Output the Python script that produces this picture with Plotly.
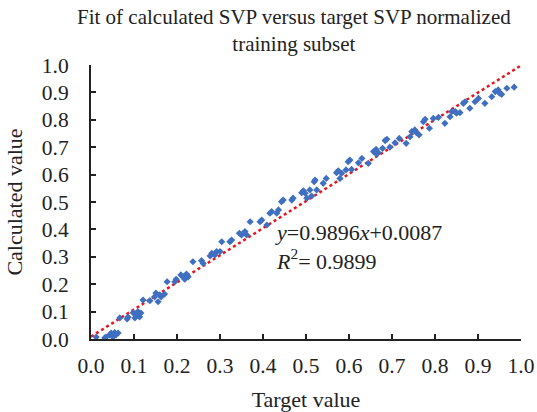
import plotly.graph_objects as go

# Target (x) and calculated (y) normalized SVP values
target = [0.012, 0.032, 0.035, 0.043, 0.047, 0.051, 0.055, 0.058, 0.063, 0.067,
          0.084, 0.086, 0.098, 0.102, 0.105, 0.109, 0.113, 0.116, 0.121, 0.137,
          0.148, 0.151, 0.156, 0.160, 0.163, 0.171, 0.177, 0.195, 0.198, 0.209,
          0.214, 0.218, 0.222, 0.226, 0.237, 0.257, 0.261, 0.277, 0.281, 0.288,
          0.292, 0.300, 0.304, 0.323, 0.327, 0.345, 0.350, 0.358, 0.362, 0.370,
          0.393, 0.397, 0.409, 0.416, 0.420, 0.432, 0.436, 0.443, 0.447, 0.467,
          0.470, 0.490, 0.494, 0.498, 0.502, 0.509, 0.513, 0.519, 0.521, 0.525,
          0.540, 0.547, 0.571, 0.575, 0.579, 0.583, 0.593, 0.598, 0.602, 0.606,
          0.622, 0.630, 0.645, 0.657, 0.663, 0.664, 0.668, 0.678, 0.684, 0.688,
          0.695, 0.707, 0.717, 0.733, 0.742, 0.746, 0.753, 0.757, 0.763, 0.773,
          0.777, 0.787, 0.796, 0.808, 0.823, 0.835, 0.839, 0.847, 0.850, 0.858,
          0.866, 0.870, 0.881, 0.893, 0.901, 0.916, 0.932, 0.940, 0.947, 0.950,
          0.955, 0.967, 0.984]
calculated = [0.007, 0.004, 0.007, 0.015, 0.022, 0.007, 0.023, 0.015, 0.022, 0.077,
              0.073, 0.080, 0.096, 0.077, 0.088, 0.100, 0.081, 0.095, 0.142, 0.140,
              0.154, 0.168, 0.136, 0.161, 0.154, 0.164, 0.209, 0.209, 0.218, 0.234,
              0.227, 0.218, 0.237, 0.227, 0.282, 0.286, 0.276, 0.303, 0.313, 0.307,
              0.319, 0.319, 0.355, 0.355, 0.361, 0.386, 0.380, 0.392, 0.380, 0.428,
              0.428, 0.434, 0.416, 0.459, 0.465, 0.459, 0.471, 0.501, 0.507, 0.507,
              0.514, 0.534, 0.541, 0.532, 0.514, 0.544, 0.522, 0.574, 0.580, 0.544,
              0.568, 0.586, 0.607, 0.614, 0.586, 0.605, 0.617, 0.647, 0.653, 0.619,
              0.643, 0.659, 0.641, 0.684, 0.692, 0.675, 0.680, 0.696, 0.724, 0.729,
              0.700, 0.716, 0.732, 0.714, 0.738, 0.757, 0.763, 0.753, 0.745, 0.793,
              0.802, 0.769, 0.805, 0.809, 0.787, 0.811, 0.830, 0.830, 0.824, 0.826,
              0.860, 0.866, 0.842, 0.866, 0.878, 0.860, 0.884, 0.903, 0.909, 0.897,
              0.893, 0.915, 0.919]

slope = 0.9896
intercept = 0.0087
fit_x = [0.0, 1.0]
fit_y = [slope * v + intercept for v in fit_x]

tick_vals = [i / 10 for i in range(11)]
tick_text = ["%.1f" % v for v in tick_vals]

title_text = "Fit of calculated SVP versus target SVP normalized<br>training subset"
eq_text = "<i>y</i>=0.9896<i>x</i>+0.0087<br><i>R</i><sup>2</sup>= 0.9899"

FONT = "Liberation Serif"
INK = "#222"

fig = go.Figure()
fig.add_trace(go.Scatter(
    x=fit_x, y=fit_y, mode="lines",
    line=dict(color="#e8141c", width=2.5, dash="dot"),
    showlegend=False, hoverinfo="skip"))
fig.add_trace(go.Scatter(
    x=target, y=calculated, mode="markers",
    marker=dict(color="#3f6fc1", size=5.5, symbol="diamond"),
    showlegend=False))

axis_common = dict(
    range=[0, 1], tickvals=tick_vals, ticktext=tick_text,
    ticks="inside", ticklen=5, tickwidth=1.5, tickcolor=INK,
    showline=True, linecolor=INK, linewidth=2,
    showgrid=False, zeroline=False, mirror=False, automargin=False,
    tickfont=dict(family=FONT, size=21.5, color=INK),
)

fig.update_layout(
    width=537, height=412,
    margin=dict(l=91, r=16, t=65, b=73),
    paper_bgcolor="white", plot_bgcolor="white",
    xaxis=dict(**axis_common, ticklabelstandoff=6,
               title=dict(text="Target value", standoff=22,
                          font=dict(family=FONT, size=22, color=INK))),
    yaxis=dict(**axis_common, ticklabelstandoff=16,
               title=dict(text="Calculated value", standoff=13,
                          font=dict(family=FONT, size=22, color=INK))),
    annotations=[
        dict(text=title_text, x=0.473, y=1.225, xref="paper", yref="paper",
             xanchor="center", yanchor="top", align="center", showarrow=False,
             font=dict(family=FONT, size=21, color=INK)),
        dict(text=eq_text, x=0.423, y=0.337, xref="x", yref="y",
             xanchor="left", yanchor="middle", align="left", showarrow=False,
             font=dict(family=FONT, size=22, color=INK)),
    ],
)

fig.write_html("out.html")
